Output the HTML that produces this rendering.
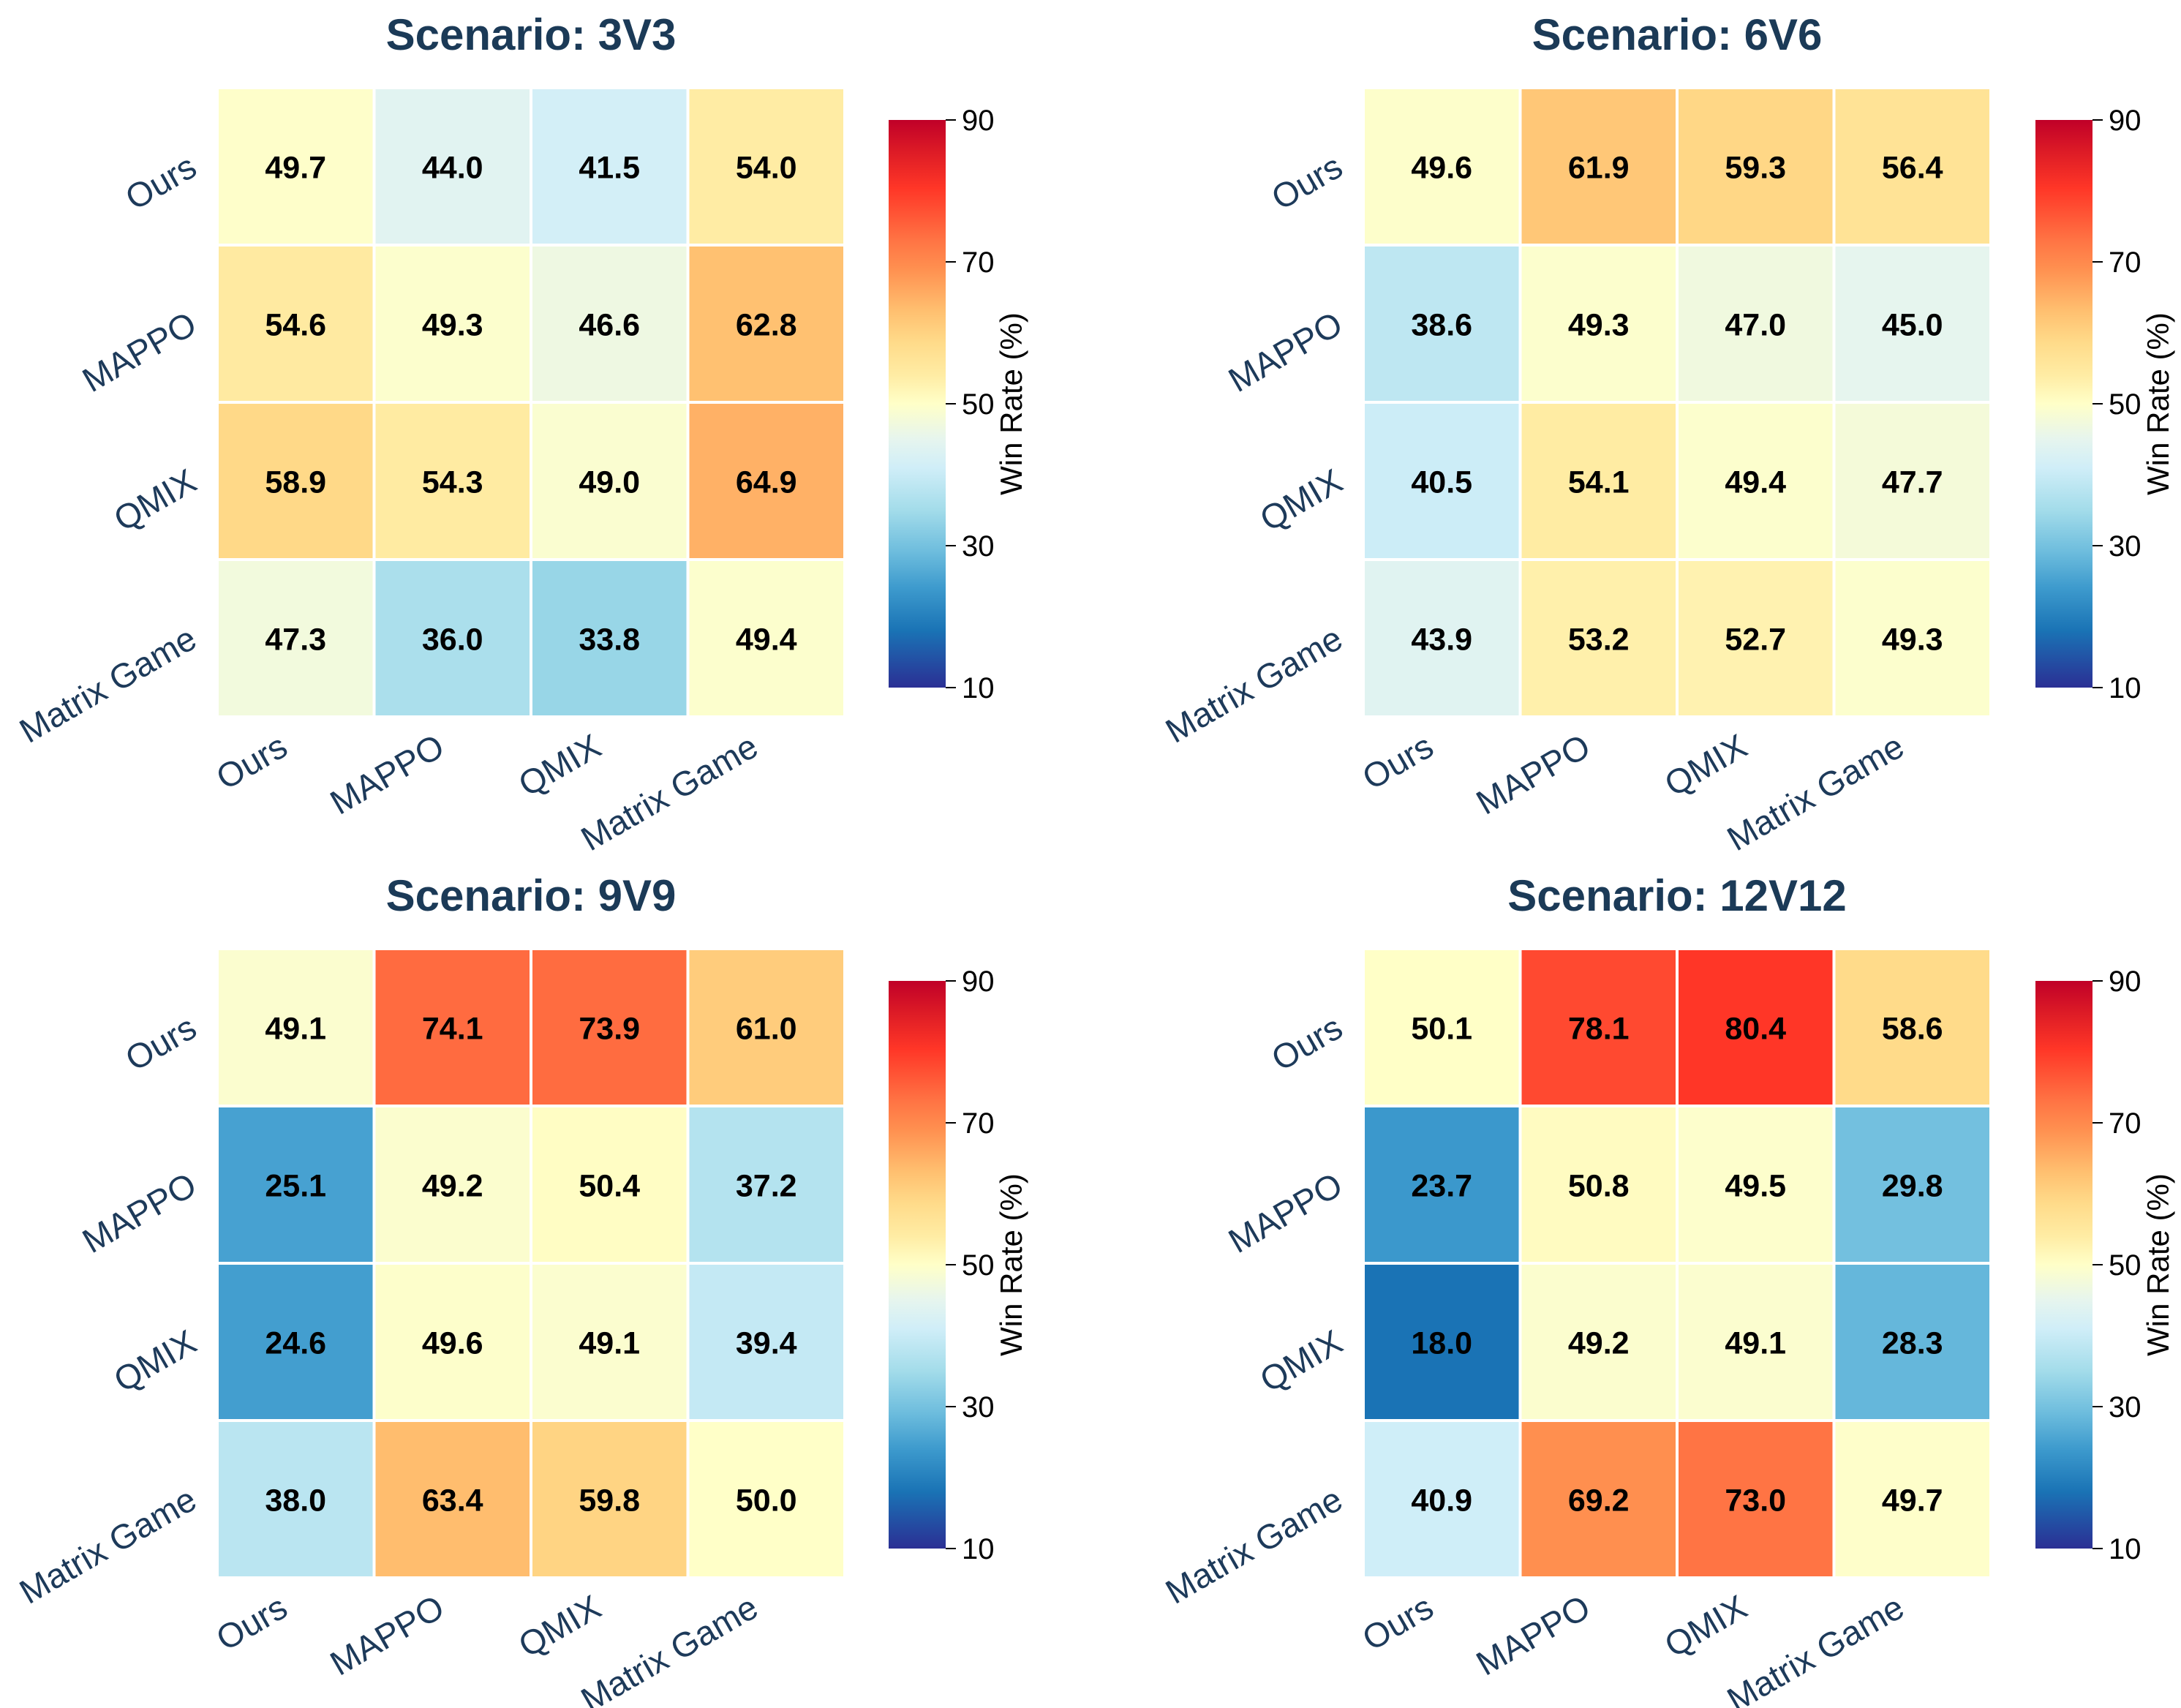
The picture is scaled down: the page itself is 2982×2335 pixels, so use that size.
<!DOCTYPE html>
<html><head><meta charset="utf-8"><style>
html,body{margin:0;padding:0;background:#fff}
svg{display:block}
text{font-family:"Liberation Sans",Arial,sans-serif}
</style></head><body>
<svg id="fig" width="2982" height="2335" viewBox="0 0 2982 2335" xmlns="http://www.w3.org/2000/svg"></svg>
<script>
const labels = ["Ours","MAPPO","QMIX","Matrix Game"];
const titles = ["Scenario: 3V3","Scenario: 6V6","Scenario: 9V9","Scenario: 12V12"];
const data3v3 = [[49.7,44.0,41.5,54.0],[54.6,49.3,46.6,62.8],[58.9,54.3,49.0,64.9],[47.3,36.0,33.8,49.4]];
const data6v6 = [[49.6,61.9,59.3,56.4],[38.6,49.3,47.0,45.0],[40.5,54.1,49.4,47.7],[43.9,53.2,52.7,49.3]];
const data9v9 = [[49.1,74.1,73.9,61.0],[25.1,49.2,50.4,37.2],[24.6,49.6,49.1,39.4],[38.0,63.4,59.8,50.0]];
const data12v12 = [[50.1,78.1,80.4,58.6],[23.7,50.8,49.5,29.8],[18.0,49.2,49.1,28.3],[40.9,69.2,73.0,49.7]];
const cbarTicks = [10,30,50,70,90];
const vmin = 10, vmax = 90;

const cmVals = [10,18,24,29,35,41,45,50,54,58.6,63,69,73,78,80.4,85,90];
const cmCols = ["#2b2f94","#1a73b5","#3d9acd","#6cbcdd","#a3dcea","#d0eef8","#e6f5ee","#ffffc8","#ffeca4","#ffdb8a","#ffc070","#ff9050","#ff7444","#ff4a30","#ff3627","#e01e26","#c00028"];
function hex(h){return [1,3,5].map(i=>parseInt(h.substr(i,2),16));}
const cmRGB = cmCols.map(hex);
function cmap(v){
  v=Math.max(vmin,Math.min(vmax,v));
  let i=0; while(i<cmVals.length-2 && v>cmVals[i+1]) i++;
  const f=(v-cmVals[i])/(cmVals[i+1]-cmVals[i]);
  const a=cmRGB[i], b=cmRGB[i+1];
  return "rgb("+a.map((c,k)=>Math.round(c+(b[k]-c)*f)).join(",")+")";
}
const NS="http://www.w3.org/2000/svg";
const svg=document.getElementById("fig");
function el(tag,attrs,parent){const e=document.createElementNS(NS,tag);for(const k in attrs)e.setAttribute(k,attrs[k]);(parent||svg).appendChild(e);return e;}

const defs=el("defs",{});
const grad=el("linearGradient",{id:"cbg",x1:"0",y1:"1",x2:"0",y2:"0"},defs);
cmVals.forEach((v,i)=>el("stop",{offset:((v-vmin)/(vmax-vmin)),"stop-color":cmCols[i]},grad));

const panels=[
 {data:data3v3,x0:297,y0:120,cbx:1215,cby:164},
 {data:data6v6,x0:1864,y0:120,cbx:2783,cby:164},
 {data:data9v9,x0:297,y0:1297,cbx:1215,cby:1341},
 {data:data12v12,x0:1864,y0:1297,cbx:2783,cby:1341}
];
const W=858, H=860, cbW=78, cbH=776;
const navy="#1d3a5a";
const LFS=47;

panels.forEach((p,pi)=>{
  const g=el("g",{});
  
  
  const n=labels.length, cw=W/n, ch=H/n;
  const xs=c=>p.x0+c*cw, ys=r=>p.y0+r*ch;
  const t=el("text",{x:p.x0+W/2,y:p.y0-52,"text-anchor":"middle","font-size":"60","font-weight":"bold",fill:"#1b3a57"},g);
  t.textContent=titles[pi];
  
  
  p.data.forEach((row,r)=>row.forEach((v,c)=>{
    const rc=el("rect",{x:xs(c),y:ys(r),width:cw,height:ch,fill:cmap(v),stroke:"#fff","stroke-width":"4"},g);
    
    
    const tx=el("text",{x:xs(c)+cw/2,y:ys(r)+ch/2+16,"text-anchor":"middle","font-size":"43","font-weight":"bold",fill:"#000"},g);
    tx.textContent=v.toFixed(1);
    
    
  }));
  labels.forEach((lb,r)=>{
    const cy=ys(r)+ch/2;
    const ax=p.x0-25, ay=cy+10;
    const tx=el("text",{x:ax,y:ay,"text-anchor":"end","font-size":LFS,fill:navy,transform:"rotate(-30 "+ax+" "+ay+")"},g);
    tx.textContent=lb;
    
    
  });
  labels.forEach((lb,c)=>{
    const cx=xs(c)+cw/2;
    const ax=cx-8, ay=p.y0+H+50;
    const tx=el("text",{x:ax,y:ay,"text-anchor":"end","font-size":LFS,fill:navy,transform:"rotate(-30 "+ax+" "+ay+")"},g);
    tx.textContent=lb;
    
    
  });
  const cb=el("rect",{x:p.cbx,y:p.cby,width:cbW,height:cbH,fill:"url(#cbg)"},g);
  
  
  const cys=v=>p.cby+cbH*(1-(v-vmin)/(vmax-vmin));
  cbarTicks.forEach(v=>{
    const y=cys(v);
    const ln=el("line",{x1:p.cbx+cbW,x2:p.cbx+cbW+14,y1:y,y2:y,stroke:"#000","stroke-width":"2"},g);
    
    
    const tx=el("text",{x:p.cbx+cbW+22,y:y+14,"font-size":"40",fill:"#000"},g);
    tx.textContent=v;
    
    
  });
  const lx=p.cbx+cbW+104, ly=p.cby+cbH/2;
  const cl=el("text",{x:lx,y:ly,"text-anchor":"middle","font-size":"42",fill:"#000",transform:"rotate(-90 "+lx+" "+ly+")"},g);
  cl.textContent="Win Rate (%)";
  
  
});
</script>
</body></html>
